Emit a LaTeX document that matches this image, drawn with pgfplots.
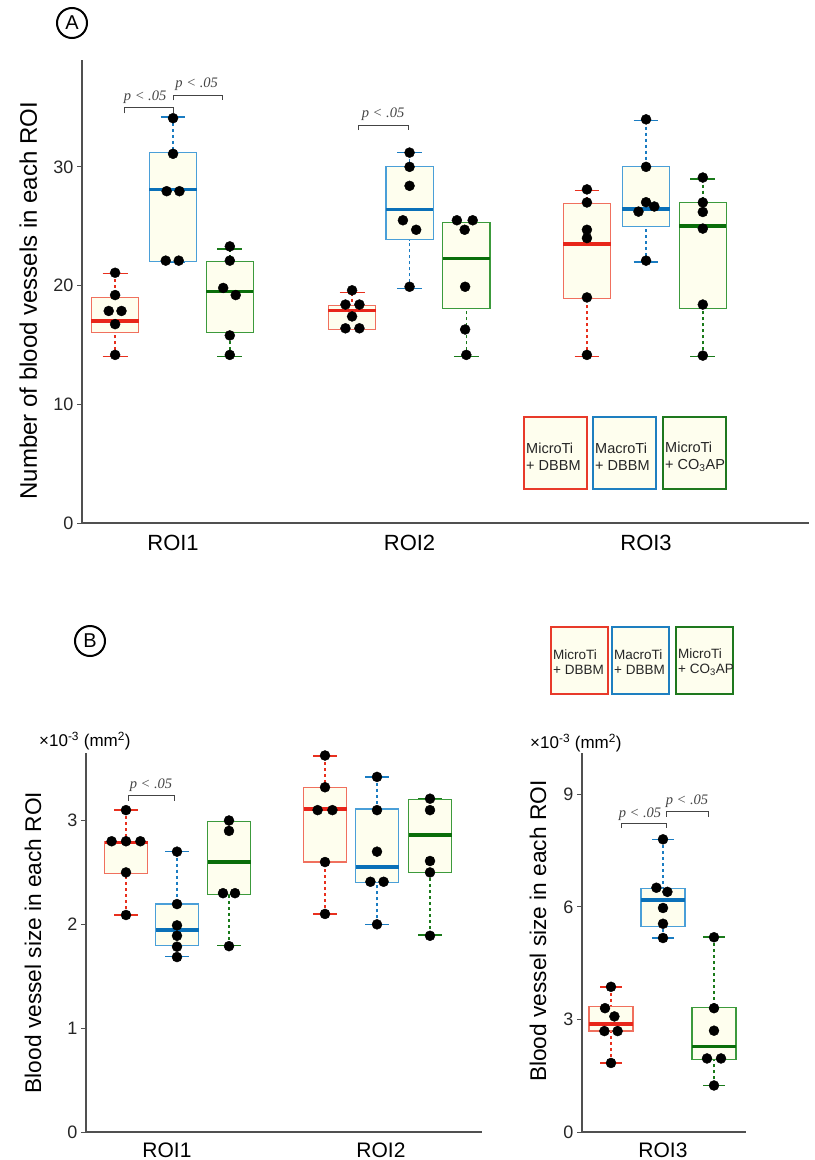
\documentclass[border=0pt]{standalone}
\usepackage{fontspec}
\setmainfont{Liberation Sans}
\newfontfamily\pfont{Liberation Serif}
\usepackage{pgfplots}
\pgfplotsset{compat=1.18}
\usepgfplotslibrary{statistics}
\definecolor{ivory}{HTML}{FEFEEE}
\definecolor{redbox}{HTML}{F0705E}
\definecolor{redmed}{HTML}{E8261A}
\definecolor{redwh}{HTML}{E8301E}
\definecolor{bluebox}{HTML}{4A9FD8}
\definecolor{bluemed}{HTML}{0A70B8}
\definecolor{bluewh}{HTML}{1A7CC2}
\definecolor{greenbox}{HTML}{3C9A3C}
\definecolor{greenmed}{HTML}{0A6E0A}
\definecolor{greenwh}{HTML}{1A7A1A}
\definecolor{legred}{HTML}{E83A2A}
\definecolor{legblue}{HTML}{1E7FC0}
\definecolor{leggreen}{HTML}{1E781E}
\definecolor{axisgray}{HTML}{505050}
\definecolor{pgray}{HTML}{444444}
\tikzset{
  pval/.style={font=\pfont\itshape\fontsize{14.5bp}{14.5bp}\selectfont, text=pgray},
  brk/.style={draw=pgray, line width=1bp},
}
\pgfplotsset{
  boxplot/draw/lower whisker/.code={%
    \draw[/pgfplots/boxplot/every whisker/.try, dash pattern=on 3bp off 3bp]
      (boxplot box cs:\pgfplotsboxplotvalue{lower whisker},0.5) --
      (boxplot box cs:\pgfplotsboxplotvalue{lower quartile},0.5);
    \draw[/pgfplots/boxplot/every whisker/.try, solid]
      (boxplot whisker cs:\pgfplotsboxplotvalue{lower whisker},0) --
      (boxplot whisker cs:\pgfplotsboxplotvalue{lower whisker},1);
  },
  boxplot/draw/upper whisker/.code={%
    \draw[/pgfplots/boxplot/every whisker/.try, dash pattern=on 3bp off 3bp]
      (boxplot box cs:\pgfplotsboxplotvalue{upper whisker},0.5) --
      (boxplot box cs:\pgfplotsboxplotvalue{upper quartile},0.5);
    \draw[/pgfplots/boxplot/every whisker/.try, solid]
      (boxplot whisker cs:\pgfplotsboxplotvalue{upper whisker},0) --
      (boxplot whisker cs:\pgfplotsboxplotvalue{upper whisker},1);
  },
  redB/.style={solid, draw=redwh,
    boxplot/every box/.style={draw=redbox, fill=ivory, line width=1.2bp},
    boxplot/every median/.style={draw=redmed, line width=3.5bp},
    boxplot/every whisker/.style={draw=redwh, line width=1.6bp}},
  blueB/.style={solid, draw=bluewh,
    boxplot/every box/.style={draw=bluebox, fill=ivory, line width=1.2bp},
    boxplot/every median/.style={draw=bluemed, line width=3.5bp},
    boxplot/every whisker/.style={draw=bluewh, line width=1.6bp}},
  greenB/.style={solid, draw=greenwh,
    boxplot/every box/.style={draw=greenbox, fill=ivory, line width=1.2bp},
    boxplot/every median/.style={draw=greenmed, line width=3.5bp},
    boxplot/every whisker/.style={draw=greenwh, line width=1.6bp}},
  myaxis/.style={
    scale only axis, axis lines*=left,
    axis line style={draw=axisgray, line width=1.2bp},
    tick align=outside, major tick length=5bp,
    ytick style={draw=axisgray, line width=1bp},
    xtick style={draw=none},
    ymin=0, clip=false,
    boxplot/draw direction=y,
    /pgf/number format/assume math mode=true,
    yticklabel style={font=\fontsize{18bp}{18bp}\selectfont, text=black!85},
    xticklabel style={font=\fontsize{22bp}{22bp}\selectfont, yshift=-4bp},
    xtick={1,2,3},
  },
  dots/.style={only marks, mark=*, mark size=5bp, black},
}
\newcommand\bx[7]{\addplot[#1, boxplot prepared={draw direction=y, draw position=#2, lower whisker=#3, lower quartile=#4, median=#5, upper quartile=#6, upper whisker=#7}] coordinates {};}
\begin{document}
\begin{tikzpicture}
% ---------------- Panel A ----------------
\begin{axis}[myaxis, at={(82bp,-523bp)}, anchor=south west,
  width=727bp, height=463bp,
  xmin=0.615, xmax=3.689, ymax=39,
  ytick={0,10,20,30},
  xticklabels={ROI1,ROI2,ROI3},
  boxplot/box extend=0.2, boxplot/whisker extend=0.105,
  ylabel={Number of blood vessels in each ROI},
  ylabel style={font=\fontsize{24bp}{24bp}\selectfont, at={(axis description cs:-0.074,0.48)}, anchor=center},
]
\bx{redB}{0.755}{14.04}{16.02}{17.02}{18.98}{21.02}
\bx{blueB}{1.0}{22.0}{22.0}{28.1}{31.2}{34.2}
\bx{greenB}{1.24}{14.04}{16.02}{19.5}{22.05}{23.1}
\bx{redB}{1.757}{16.3}{16.3}{17.9}{18.3}{19.4}
\bx{blueB}{2.0}{19.76}{23.85}{26.4}{30.0}{31.2}
\bx{greenB}{2.24}{14.04}{18.1}{22.3}{25.3}{25.3}
\bx{redB}{2.75}{14.04}{18.9}{23.5}{26.9}{28.0}
\bx{blueB}{3.0}{22.0}{25.0}{26.45}{30.0}{33.9}
\bx{greenB}{3.24}{14.04}{18.1}{25.0}{27.0}{29.0}
\addplot[dots] table {
x y
0.755 21.08
0.755 19.2
0.728 17.86
0.782 17.86
0.755 16.75
0.755 14.16
1.0 34.1
1.0 31.1
0.973 27.95
1.027 27.95
0.969 22.1
1.024 22.1
1.24 23.3
1.24 22.1
1.212 19.8
1.265 19.2
1.24 15.8
1.24 14.16
1.757 19.6
1.729 18.4
1.788 18.4
1.757 17.4
1.729 16.4
1.788 16.4
2.0 31.2
2.0 30.0
2.0 28.4
1.972 25.5
2.028 24.7
2.0 19.9
2.200 25.5
2.267 25.5
2.233 24.7
2.235 19.9
2.235 16.3
2.24 14.16
2.75 28.1
2.75 27.0
2.75 24.7
2.75 24.0
2.75 19.0
2.75 14.16
3.0 34.0
3.0 30.0
3.0 27.02
2.968 26.23
3.035 26.66
3.0 22.1
3.24 29.1
3.24 27.0
3.24 26.2
3.24 24.8
3.24 18.4
3.24 14.1
};
\draw[brk] (axis cs:0.793,34.5) -- (axis cs:0.793,35.0) -- (axis cs:1.0,35.0) -- (axis cs:1.0,34.5);
\node[pval] at (axis cs:0.882,35.85) {p < .05};
\draw[brk] (axis cs:1.003,35.6) -- (axis cs:1.003,36.0) -- (axis cs:1.207,36.0) -- (axis cs:1.207,35.6);
\node[pval] at (axis cs:1.10,37.0) {p < .05};
\draw[brk] (axis cs:1.786,33.1) -- (axis cs:1.786,33.5) -- (axis cs:1.994,33.5) -- (axis cs:1.994,33.1);
\node[pval] at (axis cs:1.888,34.4) {p < .05};
\end{axis}
% legend A
\foreach \x/\c/\la/\lb in {524/legred/MicroTi/+ DBBM, 593/legblue/MacroTi/+ DBBM, 663/leggreen/MicroTi/+ CO\textsubscript{3}AP}{
  \draw[\c, line width=2bp, fill=ivory] (\x bp,-417bp) rectangle ++(63bp,-72bp);
  \node[anchor=west, align=left, inner sep=0pt, font=\fontsize{14.5bp}{17bp}\selectfont, text=black!85] at (\x bp+2bp,-457bp) {\la\\\lb};
}
\node[draw, circle, line width=2bp, minimum size=30bp, inner sep=0pt, font=\fontsize{20bp}{20bp}\selectfont] at (72bp,-23bp) {A};
% ---------------- Panel B left ----------------
\begin{axis}[myaxis, at={(86bp,-1132bp)}, anchor=south west,
  width=396bp, height=379bp,
  xmin=0.545, xmax=2.525, ymax=3.65,
  ytick={0,1,2,3}, xtick={0.95,2.02},
  xticklabels={ROI1,ROI2},
  xticklabel style={font=\fontsize{21bp}{21bp}\selectfont, yshift=2bp},
  boxplot/box extend=0.215, boxplot/whisker extend=0.117,
  ylabel={Blood vessel size in each ROI},
  ylabel style={font=\fontsize{22.7bp}{22.7bp}\selectfont, at={(axis description cs:-0.134,0.5)}, anchor=center},
]
\bx{redB}{0.745}{2.09}{2.49}{2.79}{2.80}{3.10}
\bx{blueB}{1.0}{1.69}{1.795}{1.944}{2.195}{2.70}
\bx{greenB}{1.26}{1.795}{2.29}{2.60}{2.99}{2.99}
\bx{redB}{1.74}{2.10}{2.60}{3.11}{3.315}{3.62}
\bx{blueB}{2.0}{2.0}{2.40}{2.55}{3.11}{3.42}
\bx{greenB}{2.265}{1.90}{2.50}{2.86}{3.205}{3.205}
\addplot[dots] table {
x y
0.745 3.10
0.673 2.80
0.745 2.80
0.817 2.80
0.745 2.50
0.745 2.09
1.0 2.70
1.0 2.195
1.0 1.99
1.0 1.89
1.0 1.785
1.0 1.685
1.26 3.0
1.26 2.90
1.23 2.30
1.29 2.30
1.26 1.79
1.74 3.626
1.74 3.32
1.703 3.10
1.777 3.10
1.74 2.60
1.74 2.10
2.0 3.42
2.0 3.10
2.0 2.70
1.967 2.41
2.033 2.41
2.0 2.0
2.265 3.21
2.265 3.10
2.265 2.61
2.265 2.50
2.265 1.89
};
\draw[brk] (axis cs:0.758,3.19) -- (axis cs:0.758,3.24) -- (axis cs:0.985,3.24) -- (axis cs:0.985,3.19);
\node[pval] at (axis cs:0.87,3.335) {p < .05};
\end{axis}
\node[anchor=west, inner sep=0pt, font=\fontsize{17bp}{17bp}\selectfont] at (39bp,-741bp) {×10\textsuperscript{-3} (mm\textsuperscript{2})};
\node[draw, circle, line width=2bp, minimum size=30bp, inner sep=0pt, font=\fontsize{20bp}{20bp}\selectfont] at (90bp,-641bp) {B};
% ---------------- Panel B right ----------------
\begin{axis}[myaxis, at={(582bp,-1132bp)}, anchor=south west,
  width=164bp, height=379bp,
  xmin=0.595, xmax=1.415, ymax=10.1,
  ytick={0,3,6,9}, xtick={1},
  xticklabels={ROI3},
  xticklabel style={font=\fontsize{21bp}{21bp}\selectfont, yshift=2bp},
  boxplot/box extend=0.22, boxplot/whisker extend=0.11,
  ylabel={Blood vessel size in each ROI},
  ylabel style={font=\fontsize{22.7bp}{22.7bp}\selectfont, at={(axis description cs:-0.268,0.53)}, anchor=center},
]
\bx{redB}{0.74}{1.84}{2.69}{2.88}{3.34}{3.87}
\bx{blueB}{1.0}{5.17}{5.47}{6.18}{6.48}{7.80}
\bx{greenB}{1.255}{1.24}{1.94}{2.28}{3.32}{5.19}
\addplot[dots] table {
x y
0.74 3.87
0.71 3.30
0.757 3.08
0.707 2.69
0.773 2.69
0.74 1.84
1.0 7.80
0.967 6.51
1.022 6.40
1.0 5.97
1.0 5.55
1.0 5.17
1.255 5.19
1.255 3.30
1.255 2.70
1.22 1.96
1.29 1.96
1.255 1.24
};
\draw[brk] (axis cs:0.79,8.10) -- (axis cs:0.79,8.21) -- (axis cs:1.015,8.21) -- (axis cs:1.015,8.10);
\node[pval] at (axis cs:0.885,8.47) {p < .05};
\draw[brk] (axis cs:1.018,8.40) -- (axis cs:1.018,8.55) -- (axis cs:1.225,8.55) -- (axis cs:1.225,8.40);
\node[pval] at (axis cs:1.12,8.81) {p < .05};
\end{axis}
\node[anchor=west, inner sep=0pt, font=\fontsize{17bp}{17bp}\selectfont] at (530bp,-743bp) {×10\textsuperscript{-3} (mm\textsuperscript{2})};
% legend B
\foreach \x/\c/\la/\lb in {551/legred/MicroTi/+ DBBM, 612/legblue/MacroTi/+ DBBM, 676/leggreen/MicroTi/+ CO\textsubscript{3}AP}{
  \draw[\c, line width=2bp, fill=ivory] (\x bp,-627bp) rectangle ++(57bp,-67bp);
  \node[anchor=west, align=left, inner sep=0pt, font=\fontsize{13.5bp}{15bp}\selectfont, text=black!85] at (\x bp+2bp,-662bp) {\la\\\lb};
}
\pgfresetboundingbox
\path[use as bounding box] (0bp,0bp) rectangle (815bp,-1160bp);
\end{tikzpicture}
\end{document}
